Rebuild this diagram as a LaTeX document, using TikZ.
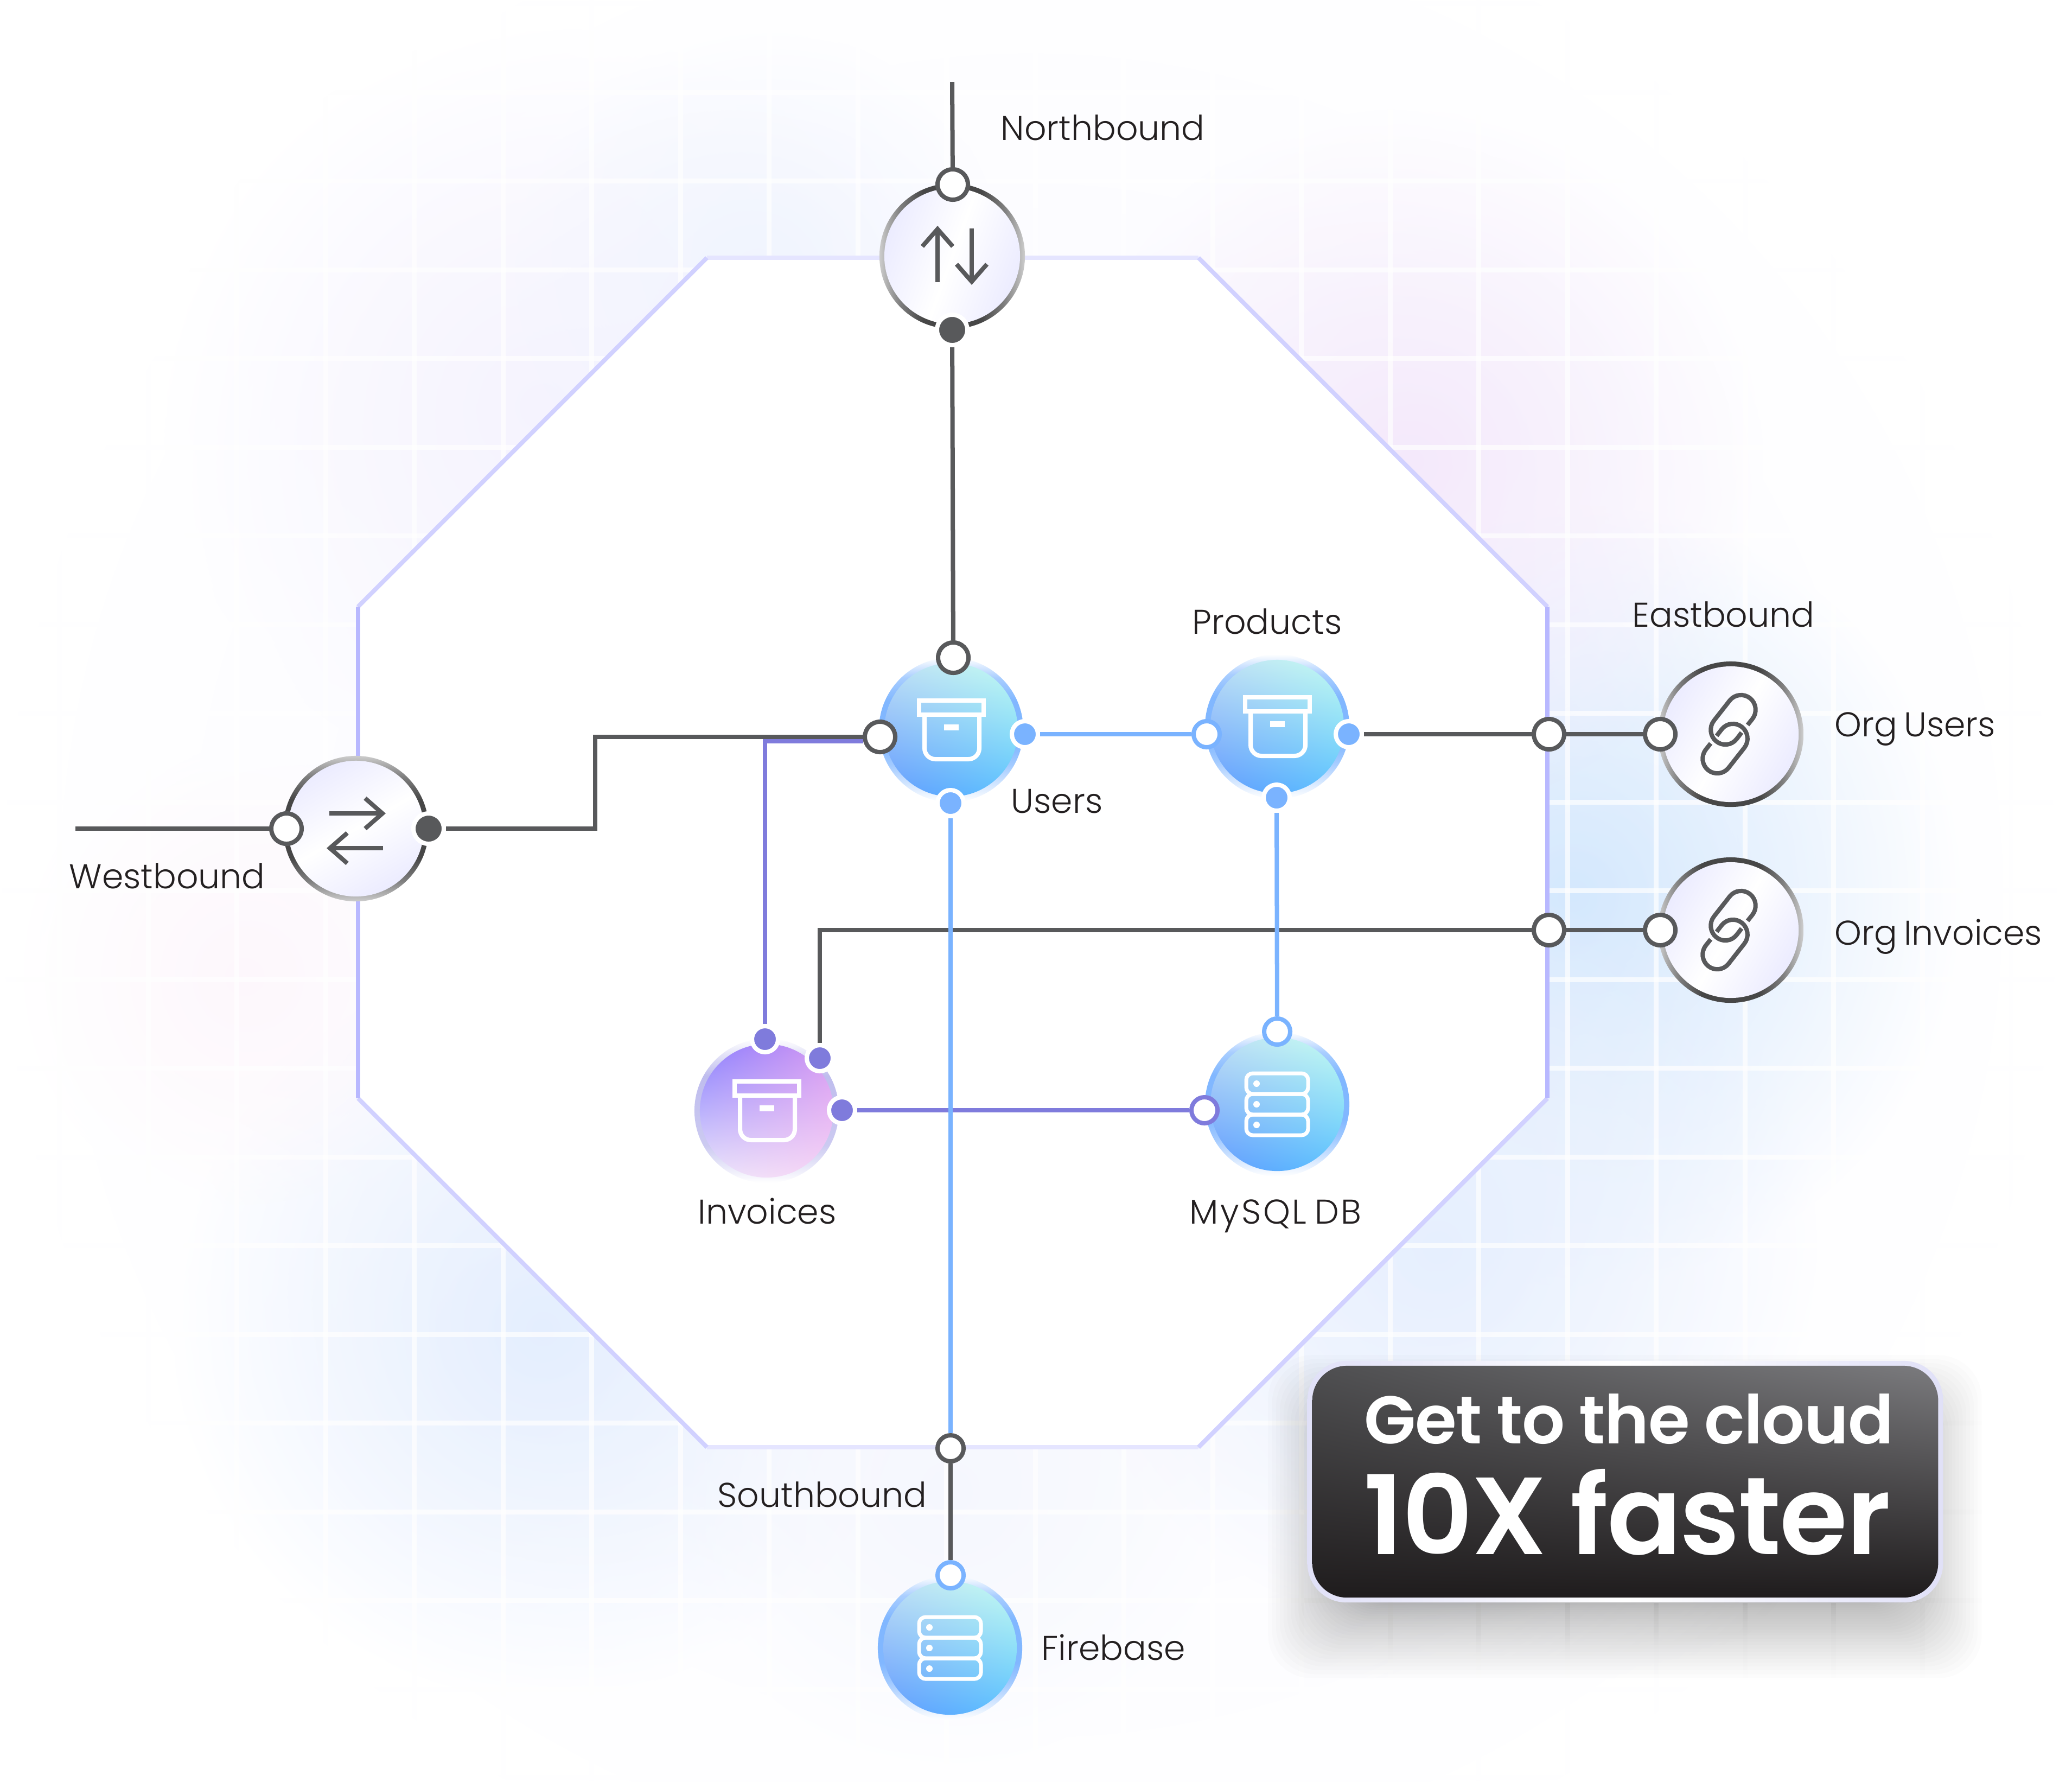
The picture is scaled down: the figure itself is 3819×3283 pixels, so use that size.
\documentclass[tikz,border=0pt]{standalone}
\usepackage{fontspec}
\setmainfont{Poppins}[UprightFont=* Light,BoldFont=* SemiBold,WordSpace=0.7,BoldFeatures={WordSpace=0.95,LetterSpace=-1.2}]
\usetikzlibrary{arrows.meta,fadings,shadings}
\definecolor{linegrey}{HTML}{58595B}
\definecolor{lineblue}{HTML}{7AB3FF}
\definecolor{linepurple}{HTML}{7F7BDC}
\definecolor{inktext}{HTML}{231F20}
\definecolor{blueul}{RGB}{195,225,245}
\definecolor{blueur}{RGB}{200,255,240}
\definecolor{bluell}{RGB}{95,150,255}
\definecolor{bluelr}{RGB}{85,195,255}
\definecolor{pinkul}{RGB}{130,120,255}
\definecolor{pinkur}{RGB}{215,150,240}
\definecolor{pinkll}{RGB}{240,235,250}
\definecolor{pinklr}{RGB}{250,215,245}
\definecolor{ctaul}{RGB}{79,79,81}
\definecolor{ctaur}{RGB}{123,123,126}
\definecolor{ctalow}{RGB}{31,28,29}
\definecolor{glowa}{RGB}{212,232,253}
\definecolor{glowb}{RGB}{230,239,254}
\definecolor{glowc}{RGB}{228,238,254}
\definecolor{glowd}{RGB}{244,233,251}
\definecolor{glowe}{RGB}{245,243,254}
\definecolor{glowf}{RGB}{240,244,255}
\definecolor{glowg}{RGB}{254,247,252}
\definecolor{glowh}{RGB}{245,247,254}
\pgfdeclareverticalshading{ringgrey}{100bp}{color(0bp)=(black!20); color(25bp)=(black!20); color(32bp)=(black!50); color(40bp)=(black!72); color(60bp)=(black!72); color(68bp)=(black!50); color(75bp)=(black!20); color(100bp)=(black!20)}
\pgfdeclareverticalshading{ringblue}{100bp}{color(0bp)=(white); color(25bp)=(white); color(38bp)=(lineblue!70); color(45bp)=(lineblue!95); color(60bp)=(lineblue!95); color(68bp)=(lineblue!65); color(75bp)=(white); color(100bp)=(white)}
\pgfdeclareverticalshading{ringpink}{100bp}{color(0bp)=(white); color(25bp)=(white); color(38bp)=(linepurple!40); color(62bp)=(linepurple!50); color(75bp)=(white); color(100bp)=(white)}
\tikzfading[name=glowfade, inner color=transparent!0, outer color=transparent!100]
\tikzset{
    wire/.style={line width=.08cm, color=#1},
    wire/.default=linegrey,
    gridline/.style={white, opacity=.7, line width=.09cm},
    lbl/.style={anchor=base west, inner sep=0pt, text=inktext, font=\fontsize{18pt}{22pt}\selectfont},
    openport/.style={circle, draw=#1, fill=white, line width=.08cm, minimum size=.56cm, inner sep=0pt},
    openport/.default=linegrey,
    smallport/.style={openport=#1, minimum size=.48cm},
    smallport/.default=linegrey,
    solidport/.style={circle, draw=white, fill=#1, line width=.08cm, minimum size=.48cm, inner sep=0pt},
    greyball/.style 2 args={circle, minimum size=2.68cm, inner sep=0pt, shade, shading=ringgrey, shading angle=#1,
        path picture={\shade[top color=blue!8, bottom color=blue!8, middle color=white, shading angle=#2] (path picture bounding box.center) circle (1.25cm);}},
    blueball/.style={circle, minimum size=2.66cm, inner sep=0pt, shade, shading=ringblue, shading angle=0,
        path picture={\shade[upper left=blueul, upper right=blueur, lower left=bluell, lower right=bluelr] (path picture bounding box.center) circle (1.23cm);}},
    pinkball/.style={circle, minimum size=2.66cm, inner sep=0pt, shade, shading=ringpink, shading angle=0,
        path picture={\shade[upper left=pinkul, upper right=pinkur, lower left=pinkll, lower right=pinklr] (path picture bounding box.center) circle (1.23cm);}},
    boxicon/.pic={
        \draw[white, line width=.08cm] (-59,-54) rectangle (60,-28);
        \draw[white, line width=.08cm, rounded corners=2mm] (-49,-28) -- (-49,54) -- (52,54) -- (52,-28);
        \fill[white] (-13,-10) rectangle (14,1);
    },
    dbicon/.pic={
        \foreach \row in {-38,0,38} {
            \draw[white, line width=.07cm, rounded corners=1.2mm] (-57,\row-19) rectangle (57,\row+19);
            \fill[white] (-38,\row) circle (6);
        }
    },
    linkicon/.pic={
        \draw[wire, rounded corners=2.7mm] (31,-17) -- (56.7,-49.2) -- (14.7,-83.2) -- (-47.7,-3.8) -- (-5.7,30.2) -- (20,-3);
        \draw[wire, rounded corners=2.7mm] (-37,17) -- (-62.7,49.2) -- (-20.7,83.2) -- (41.7,3.8) -- (-0.3,-30.2) -- (-26,3);
    },
    updownicon/.pic={
        \draw[wire, -{Straight Barb[length=.32cm,width=.56cm]}] (-27,48) -- (-27,-56);
        \draw[wire, -{Straight Barb[length=.32cm,width=.56cm]}] (36,-51) -- (36,53);
    },
    swapicon/.pic={
        \draw[wire, -{Straight Barb[length=.32cm,width=.56cm]}] (-49,-28) -- (55,-28);
        \draw[wire, -{Straight Barb[length=.32cm,width=.56cm]}] (50,36) -- (-54,36);
    },
}
\begin{document}
\begin{tikzpicture}[x=.01cm, y=-.01cm]
    \useasboundingbox (0,0) rectangle (3819,3283);
    % soft glow behind the octagon
    \fill[blue!3, path fading=glowfade] (1900,1650) circle (1900);
    \foreach \cx/\cy/\rad/\tint in {2900/1650/720/glowa, 2650/2300/700/glowb, 1000/2450/680/glowc, 2600/850/650/glowd, 1000/750/700/glowe, 1400/500/450/glowf, 450/1800/420/glowg, 1750/2750/500/glowh}
        \fill[color=\tint, path fading=glowfade] (\cx,\cy) circle (\rad);
    \foreach \k in {0,...,22}
        \draw[gridline] ({109.5+163.5*\k},0) -- ({109.5+163.5*\k},3283);
    \foreach \k in {0,...,20}
        \draw[gridline] (0,{6.5+163.5*\k}) -- (3819,{6.5+163.5*\k});
    % octagon
    \fill[white] (1303,475) -- (2209,475) -- (2852,1118) -- (2852,2024) -- (2209,2667) -- (1303,2667) -- (660,2024) -- (660,1118) -- cycle;
    \draw[line width=.08cm, color=blue!10] (1303,475) -- (2209,475) (1303,2667) -- (2209,2667);
    \draw[line width=.08cm, color=blue!18] (660,1118) -- (1303,475) (2209,475) -- (2852,1118) (2852,2024) -- (2209,2667) (1303,2667) -- (660,2024);
    \draw[line width=.08cm, color=blue!28] (660,1118) -- (660,2024) (2852,1118) -- (2852,2024);
    % main nodes
    \node[greyball={90}{70}] (north) at (1755,472) {};
    \node[greyball={0}{30}] (west) at (656,1527) {};
    \node[blueball] (users) at (1753,1345) {};
    \node[blueball] (products) at (2354,1339) {};
    \node[pinkball] (invoices) at (1413,2047) {};
    \node[blueball] (mysql) at (2354,2035) {};
    \node[blueball] (firebase) at (1751,3037) {};
    \node[greyball={90}{60}] (orgusers) at (3190,1353) {};
    \node[greyball={90}{60}] (orginvoices) at (3190,1714) {};
    \pic at (north) {updownicon};
    \pic at (west) {swapicon};
    \pic at (users) {boxicon};
    \pic at (products) {boxicon};
    \pic at (invoices) {boxicon};
    \pic at (mysql) {dbicon};
    \pic at (firebase) {dbicon};
    \pic at (orgusers) {linkicon};
    \pic at (orginvoices) {linkicon};
    % ports
    \node[openport] (northin) at (1756,340) {};
    \node[solidport=linegrey, minimum size=.56cm] (northout) at (1755,608) {};
    \node[openport] (westin) at (528,1527) {};
    \node[solidport=linegrey, minimum size=.56cm] (westout) at (790,1527) {};
    \node[openport] (usersnorth) at (1757,1212) {};
    \node[openport] (userswest) at (1622,1358) {};
    \node[solidport=lineblue] (userseast) at (1889,1353) {};
    \node[solidport=lineblue] (userssouth) at (1752,1480) {};
    \node[smallport=lineblue] (productswest) at (2224,1353) {};
    \node[solidport=lineblue] (productseast) at (2486,1353) {};
    \node[solidport=lineblue] (productssouth) at (2353,1470) {};
    \node[solidport=linepurple] (invoicesnorth) at (1410,1915) {};
    \node[solidport=linepurple] (invoicesne) at (1511,1950) {};
    \node[solidport=linepurple] (invoiceseast) at (1552,2046) {};
    \node[smallport=lineblue] (mysqlnorth) at (2354,1901) {};
    \node[smallport=linepurple] (mysqlwest) at (2220,2046) {};
    \node[smallport=lineblue] (firebasenorth) at (1752,2903) {};
    \node[smallport] (south) at (1752,2669) {};
    \node[openport] (eastusers) at (2855,1353) {};
    \node[openport] (eastinvoices) at (2855,1714) {};
    \node[openport] (orgusersin) at (3060,1353) {};
    \node[openport] (orginvoicesin) at (3060,1714) {};
    % connectors
    \coordinate (northend) at (1755,151);
    \coordinate (westend) at (139,1527);
    \coordinate (westbend) at (1097,1358);
    \coordinate (purplestart) at (1591,1366);
    \draw[wire] (northend) -- (northin);
    \draw[wire] (northout) -- (usersnorth);
    \draw[wire] (westend) -- (westin);
    \draw[wire=linepurple] (purplestart) -| (invoicesnorth);
    \draw[wire] (westout) -| (westbend) -- (userswest);
    \draw[wire] (eastinvoices) -| (invoicesne);
    \draw[wire=lineblue] (userseast) -- (productswest);
    \draw[wire=lineblue] (productssouth) -- (mysqlnorth);
    \draw[wire=linepurple] (invoiceseast) -- (mysqlwest);
    \draw[wire=lineblue] (userssouth) -- (south);
    \draw[wire] (south) -- (firebasenorth);
    \draw[wire] (productseast) -- (eastusers);
    \draw[wire] (eastusers) -- (orgusersin);
    \draw[wire] (eastinvoices) -- (orginvoicesin);
    % labels
    \node[lbl] (northlbl) at (1844,258) {Northbound};
    \node[lbl] (westlbl) at (127,1637) {Westbound};
    \node[lbl] (eastlbl) at (3008,1155) {Eastbound};
    \node[lbl] (southlbl) at (1322,2777) {Southbound};
    \node[lbl] (userslbl) at (1863,1498) {Users};
    \node[lbl] (productslbl) at (2197,1168) {Products};
    \node[lbl] (invoiceslbl) at (1286,2255) {Invoices};
    \node[lbl] (mysqllbl) at (2192,2255) {\addfontfeature{LetterSpace=6}MySQL DB};
    \node[lbl] (firebaselbl) at (1919,3059) {Firebase};
    \node[lbl] (orguserslbl) at (3381,1357) {Org Users};
    \node[lbl] (orginvoiceslbl) at (3381,1741) {Org Invoices};
    % call to action
    \foreach \k in {1,...,30} {
        \pgfmathsetmacro{\grow}{150*(1-\k/30)^1.5}
        \fill[black, opacity=.012, rounded corners=.8cm] ({2480-\grow},{2640-\grow}) rectangle ({3510+\grow},{2950+\grow});
    }
    \node[minimum width=11.71cm, minimum height=4.45cm, inner sep=0pt, rounded corners=.72cm, left color=black!25!blue!12, right color=black!25!blue!12, middle color=white] (ctaring) at (2995.5,2730.5) {};
    \node[minimum width=11.53cm, minimum height=4.27cm, inner sep=0pt, rounded corners=.64cm, upper left=ctaul, upper right=ctaur, lower left=ctalow, lower right=ctalow] (ctabox) at (ctaring) {};
    \node[anchor=base west, inner sep=0pt, text=white, font=\bfseries\fontsize{35.3pt}{40pt}\selectfont] (ctaone) at (2514,2660) {Get to the cloud};
    \node[anchor=base west, inner sep=0pt, text=white, font=\bfseries\fontsize{57.5pt}{64pt}\selectfont] (ctatwo) at (2513,2864) {10X faster};
\end{tikzpicture}
\end{document}
